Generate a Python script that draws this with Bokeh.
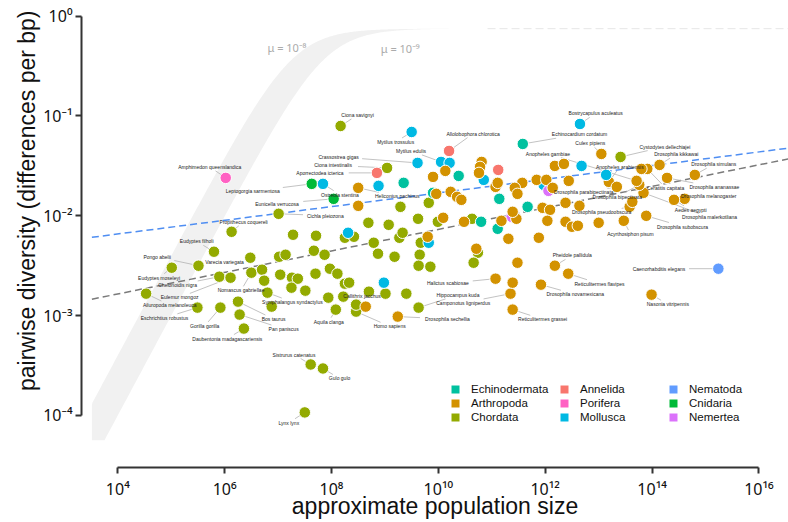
import numpy as np
from bokeh.plotting import figure
from bokeh.models import Range1d, FixedTicker, ColumnDataSource, Label, Legend, LegendItem, Title
from bokeh.core.properties import value
from bokeh.embed import file_html
from bokeh.resources import INLINE

# ---------------- data ----------------
phyla = ["Echinodermata", "Arthropoda", "Chordata", "Annelida", "Porifera",
         "Mollusca", "Nematoda", "Cnidaria", "Nemertea"]
phylum_colors = {"Annelida": "#F8766D", "Arthropoda": "#D39200", "Chordata": "#93AA00",
                 "Cnidaria": "#00BA38", "Echinodermata": "#00C19F", "Mollusca": "#00B9E3",
                 "Nematoda": "#619CFF", "Nemertea": "#DB72FB", "Porifera": "#FF61C3"}

# labelled species: name, phylum, log10 population size, log10 pairwise diversity
species = ["Ciona savignyi", "Mytilus trossulus", "Amphimedon queenslandica", "Crassostrea gigas",
           "Mytilus edulis", "Ciona intestinalis", "Aporrectodea icterica", "Leptogorgia sarmentosa",
           "Ostreola stentina", "Eunicella verrucosa", "Heliconius pachinus", "Cichla pleiozona",
           "Propithecus coquereli", "Eudyptes filholi", "Ailuropoda melanoleuca", "Eudyptes moseleyi",
           "Pongo abelii", "Varecia variegata", "Chelonoidis nigra", "Eulemur mongoz",
           "Eschrichtius robustus", "Gorilla gorilla", "Bos taurus", "Pan paniscus",
           "Daubentonia madagascariensis", "Nomascus gabriellae", "Symphalangus syndactylus",
           "Aquila clanga", "Homo sapiens", "Callithrix jacchus", "Sistrurus catenatus", "Gulo gulo",
           "Lynx lynx", "Hippocampus kuda", "Drosophila sechellia", "Halictus scabiosae",
           "Camponotus ligniperdus", "Reticulitermes grassei", "Drosophila novamexicana",
           "Pheidole pallidula", "Reticulitermes flavipes", "Nasonia vitripennis",
           "Caenorhabditis elegans", "Bostrycapulus aculeatus", "Allolobophora chlorotica",
           "Echinocardium cordatum", "Culex pipiens", "Cystodytes dellechiajei", "Drosophila kikkawai",
           "Anopheles arabiensis", "Ceratitis capitata", "Drosophila simulans", "Drosophila ananassae",
           "Drosophila melanogaster", "Aedes aegypti", "Drosophila malerkotliana",
           "Drosophila subobscura", "Acyrthosiphon pisum", "Drosophila pseudoobscura",
           "Drosophila parabipectinata", "Drosophila bipectinata", "Anopheles gambiae"]
species_phylum = ["Chordata", "Mollusca", "Porifera", "Mollusca", "Mollusca", "Chordata", "Annelida",
                  "Cnidaria", "Mollusca", "Cnidaria", "Arthropoda", "Chordata", "Chordata", "Chordata",
                  "Chordata", "Chordata", "Chordata", "Chordata", "Chordata", "Chordata", "Chordata",
                  "Chordata", "Chordata", "Chordata", "Chordata", "Chordata", "Chordata", "Chordata",
                  "Chordata", "Chordata", "Chordata", "Chordata", "Chordata", "Chordata", "Arthropoda",
                  "Arthropoda", "Arthropoda", "Arthropoda", "Arthropoda", "Arthropoda", "Arthropoda",
                  "Arthropoda", "Nematoda", "Mollusca", "Annelida", "Echinodermata", "Arthropoda",
                  "Chordata", "Arthropoda", "Arthropoda", "Arthropoda", "Arthropoda", "Arthropoda",
                  "Arthropoda", "Arthropoda", "Arthropoda", "Arthropoda", "Arthropoda", "Arthropoda",
                  "Arthropoda", "Arthropoda", "Arthropoda"]
species_log10_N = [8.17, 9.50, 6.02, 9.61, 10.05, 9.04, 8.85, 7.63, 7.84, 8.04, 8.50, 7.01, 6.13, 5.80,
                   4.53, 5.01, 5.51, 6.48, 5.90, 6.11, 5.49, 5.92, 6.25, 6.28, 6.36, 6.50, 6.80, 8.08,
                   8.46, 8.46, 7.61, 7.84, 7.50, 9.63, 9.24, 11.07, 11.35, 11.39, 11.92, 12.18, 12.43,
                   13.99, 15.24, 12.65, 10.20, 11.58, 13.05, 13.41, 14.14, 13.19, 13.91, 14.80, 14.28,
                   14.61, 14.41, 13.84, 13.89, 13.47, 13.58, 13.34, 13.76, 13.71]
species_log10_pi = [-1.10, -1.16, -1.62, -1.47, -1.46, -1.52, -1.57, -1.68, -1.68, -1.83, -1.72, -1.98,
                    -2.16, -2.36, -2.78, -2.52, -2.50, -2.42, -2.61, -2.62, -2.92, -2.92, -2.86, -2.99,
                    -3.13, -2.57, -2.77, -2.94, -2.96, -2.89, -3.49, -3.53, -3.97, -2.92, -3.01, -2.63,
                    -2.78, -2.94, -2.69, -2.50, -2.58, -2.79, -2.53, -1.08, -1.35, -1.28, -1.38, -1.41,
                    -1.49, -1.66, -1.53, -1.59, -1.62, -1.83, -1.84, -1.77, -2.00, -2.05, -1.91, -1.71,
                    -1.69, -1.65]

# unlabelled species
other_phylum = (["Chordata"] * 44 + ["Mollusca"] * 9 + ["Echinodermata"] * 7 + ["Annelida"]
                + ["Nemertea"] * 2 + ["Arthropoda"] * 44)
other_log10_N = [7.28, 7.71, 8.25, 8.42, 8.69, 9.07, 9.62, 9.29, 9.82, 9.99, 8.79, 9.27, 9.33, 9.67,
                 8.87, 9.18, 9.65, 9.63, 9.85, 7.67, 7.87, 7.02, 7.14, 6.70, 6.74, 7.04, 7.26, 7.37,
                 7.25, 7.51, 7.70, 7.97, 8.11, 8.25, 8.33, 8.70, 9.01, 9.40, 7.94, 6.88, 8.22, 10.74,
                 10.66, 10.63,
                 8.31, 9.82, 8.98, 8.88, 10.21, 10.85, 11.97, 13.14, 12.68,
                 9.35, 9.90, 10.38, 11.14, 11.67, 11.11, 10.80,
                 11.12,
                 12.06, 11.37,
                 9.90, 9.96, 8.50, 9.80, 8.64, 10.09, 10.48, 10.13, 10.81, 10.78, 10.76, 11.07, 11.11,
                 10.23, 10.35, 10.43, 12.18, 12.35, 13.63, 12.44, 12.38, 12.64, 11.84, 12.02, 12.14,
                 11.57, 11.43, 11.48, 11.95, 12.09, 12.04, 12.38, 12.50, 12.61, 13.00, 11.46, 11.39,
                 11.18, 11.31, 11.88, 10.71, 11.48, 11.39, 13.80]
other_log10_pi = [-2.19, -2.20, -2.22, -2.21, -2.07, -2.09, -2.03, -1.91, -1.87, -2.06, -2.27, -2.22,
                  -2.17, -2.27, -2.38, -2.41, -2.39, -2.50, -2.51, -2.35, -2.39, -2.41, -2.39, -2.54,
                  -2.65, -2.59, -2.62, -2.63, -2.72, -2.75, -2.58, -2.53, -2.58, -2.68, -2.67, -2.76,
                  -2.78, -2.78, -2.82, -2.91, -2.81, -2.37, -2.47, -2.03,
                  -2.17, -2.27, -2.67, -1.70, -1.47, -1.64, -1.69, -1.59, -1.50,
                  -1.67, -1.77, -1.60, -1.83, -1.91, -2.13, -2.06,
                  -1.54,
                  -1.75, -2.01,
                  -1.61, -1.78, -1.90, -2.21, -2.91, -2.02, -2.06, -1.55, -1.46, -1.51, -1.57, -1.71,
                  -1.67, -1.76, -1.81, -1.84, -1.50, -1.48, -1.86, -1.65, -1.87, -1.90, -1.64, -1.64,
                  -1.72, -1.67, -1.72, -1.78, -1.92, -1.94, -2.05, -2.06, -2.11, -2.10, -2.07, -2.03,
                  -1.96, -2.05, -2.23, -2.22, -2.33, -2.47, -2.67, -1.53]

# fitted trend lines (log10 pi = intercept + slope * (log10 N - 4))
blue_fit = (-2.182, 0.0685)
grey_fit = (-2.783, 0.1078)
# neutral expectation band: pi = c N / (1 + 4 c N / 3)
band_c_upper = 4e-8
band_c_lower = 1e-8
saturation = 0.75

x_tick_exp = [4, 6, 8, 10, 12, 14, 16]
y_tick_exp = [-4, -3, -2, -1, 0]

# ---------------- layout (pixels) ----------------
label_offset_px = {
    "Ciona savignyi": (17, -11), "Mytilus trossulus": (-16, 10), "Amphimedon queenslandica": (-16, -11),
    "Crassostrea gigas": (-79, -6), "Mytilus edulis": (-30, -11), "Ciona intestinalis": (-54, -2.5),
    "Aporrectodea icterica": (-57, 0), "Leptogorgia sarmentosa": (-59, 7.4), "Ostreola stentina": (17, 10.7),
    "Eunicella verrucosa": (-56.6, 4.8), "Heliconius pachinus": (39, 8.5), "Cichla pleiozona": (46.7, 1.7),
    "Propithecus coquereli": (12, -10), "Eudyptes filholi": (-17.3, -10.4),
    "Ailuropoda melanoleuca": (23.6, 11.4), "Eudyptes moseleyi": (-12.7, 10), "Pongo abelii": (-41.3, -8.8),
    "Varecia variegata": (-25.7, 4.7), "Chelonoidis nigra": (-41.7, 8.3), "Eulemur mongoz": (-51, 19.7),
    "Eschrichtius robustus": (-33, 10.2), "Gorilla gorilla": (-15.7, 18.3), "Bos taurus": (35.6, 17.4),
    "Pan paniscus": (44, 14.4), "Daubentonia madagascariensis": (-16.6, 10),
    "Nomascus gabriellae": (-10.3, 17.7), "Symphalangus syndactylus": (25, 9.4), "Aquila clanga": (-7, 12),
    "Homo sapiens": (33.6, 14.7), "Callithrix jacchus": (6, -9), "Sistrurus catenatus": (-16.7, -10),
    "Gulo gulo": (16.6, 10), "Lynx lynx": (-16, 10.3), "Hippocampus kuda": (39.4, -12.7),
    "Drosophila sechellia": (49.7, 2.3), "Halictus scabiosae": (-47.7, 4.7),
    "Camponotus ligniperdus": (-47.3, 9.3), "Reticulitermes grassei": (30, 9.7),
    "Drosophila novamexicana": (34.3, 9.6), "Pheidole pallidula": (17.4, -10.3),
    "Reticulitermes flavipes": (31.3, 10), "Nasonia vitripennis": (16.3, 9.6),
    "Caenorhabditis elegans": (-59.4, 0), "Bostrycapulus aculeatus": (15.7, -10.6),
    "Allolobophora chlorotica": (24, -17.3), "Echinocardium cordatum": (56.7, -9.7),
    "Culex pipiens": (-11, -10.6), "Cystodytes dellechiajei": (44.3, -10.3),
    "Drosophila kikkawai": (16.7, -10.7), "Anopheles arabiensis": (11, -15),
    "Ceratitis capitata": (18.3, 19), "Drosophila simulans": (19, -10.7), "Drosophila ananassae": (47.3, 9),
    "Drosophila melanogaster": (24, -2.6), "Aedes aegypti": (16.7, 10),
    "Drosophila malerkotliana": (66, 24.6), "Drosophila subobscura": (36.3, 10.7),
    "Acyrthosiphon pisum": (6.7, 13.3), "Drosophila pseudoobscura": (-28, 5.6),
    "Drosophila parabipectinata": (-33, 5.6), "Drosophila bipectinata": (-22, 11.7),
    "Anopheles gambiae": (-88.7, -27.3),
}

W, H = 788, 522
LEFT, BOTTOM = 81, 55
FRAME_W, FRAME_H = W - LEFT, H - BOTTOM
LX0, LX1 = 3.3206, 16.553
LY0, LY1 = -4.522, 0.1573
x_per_px = (LX1 - LX0) / FRAME_W
y_per_px = (LY1 - LY0) / FRAME_H
band_left_log = 3.515
band_bottom_log = -4.25

p = figure(width=W, height=H,
           x_axis_type="log", y_axis_type="log",
           x_range=Range1d(10 ** LX0, 10 ** LX1), y_range=Range1d(10 ** LY0, 10 ** LY1),
           output_backend="svg", toolbar_location=None, title=None,
           min_border_left=LEFT, min_border_right=0, min_border_top=0, min_border_bottom=BOTTOM)
p.xgrid.visible = False
p.ygrid.visible = False
p.outline_line_color = None
p.background_fill_color = "white"

# band
logN = np.linspace(3.0, LX1 + 0.1, 600)
N = 10 ** logN
def neutral(c, n):
    th = c * n
    return th / (1 + 4 * th / 3)
up = np.maximum(neutral(band_c_upper, N), 10 ** band_bottom_log)
lo = np.maximum(neutral(band_c_lower, N), 10 ** band_bottom_log)
Nc = np.maximum(N, 10 ** band_left_log)
p.patch(np.concatenate([Nc, Nc[::-1]]), np.concatenate([up, lo[::-1]]),
        fill_color="#f1f1f1", line_color=None)
p.line([10 ** 10.92, 10 ** LX1], [saturation, saturation], line_color="#e6e6e6",
       line_width=1, line_dash="8 4")

# trend lines
xl = np.array([band_left_log, LX1])
for (a, b), col in [(blue_fit, "#4f8ef2"), (grey_fit, "#7a7a7a")]:
    p.line(10 ** xl, 10 ** (a + b * (xl - 4)), line_color=col, line_width=1.5, line_dash="7 4")

# labels & segments
lab_x, lab_y, seg_x0, seg_y0, seg_x1, seg_y1 = [], [], [], [], [], []
for name, lx, ly in zip(species, species_log10_N, species_log10_pi):
    dx, dy = label_offset_px[name]
    lab_x.append(10 ** (lx + dx * x_per_px))
    lab_y.append(10 ** (ly - dy * y_per_px))
    w = 2.6 * len(name) / 2 + 1.5
    h = 4.0
    t = max(abs(dx) / w, abs(dy) / h)
    if t > 1:
        f = 1 - 1 / t
        seg_x0.append(10 ** lx); seg_y0.append(10 ** ly)
        seg_x1.append(10 ** (lx + dx * f * x_per_px)); seg_y1.append(10 ** (ly - dy * f * y_per_px))
p.segment(seg_x0, seg_y0, seg_x1, seg_y1, line_color="#b3b3b3", line_width=0.8)

# points
all_phylum = species_phylum + other_phylum
all_N = [10 ** v for v in species_log10_N + other_log10_N]
all_pi = [10 ** v for v in species_log10_pi + other_log10_pi]
src = ColumnDataSource(dict(x=all_N, y=all_pi, c=[phylum_colors[ph] for ph in all_phylum]))
p.scatter("x", "y", source=src, size=11.5, fill_color="c", line_color="white", line_width=1)

tsrc = ColumnDataSource(dict(x=lab_x, y=lab_y, t=species))
p.text("x", "y", text="t", source=tsrc, text_font=value("Liberation Sans"),
       text_font_size=value("5px"), text_align="center", text_baseline="middle", text_color="#222222")

# mu labels
for txt, lx, ly in [("μ = 10⁻⁸", 6.80, -0.31), ("μ = 10⁻⁹", 8.92, -0.32)]:
    p.add_layout(Label(x=10 ** lx, y=10 ** ly, text=txt, text_align="left", text_baseline="middle",
                       text_font_size="11px", text_font="Noto Sans", text_color="#ababab"))

# axes
sup = str.maketrans("-0123456789", "⁻⁰¹²³⁴⁵⁶⁷⁸⁹")
p.xaxis.ticker = FixedTicker(ticks=[10.0 ** e for e in x_tick_exp])
p.xaxis.major_label_overrides = {10.0 ** e: "10" + str(e).translate(sup) for e in x_tick_exp}
p.xaxis.bounds = (10.0 ** x_tick_exp[0], 10.0 ** x_tick_exp[-1])
p.yaxis.ticker = FixedTicker(ticks=[10.0 ** e for e in y_tick_exp])
p.yaxis.major_label_overrides = {10.0 ** e: "10" + str(e).translate(sup) for e in y_tick_exp}
p.yaxis.bounds = (10.0 ** y_tick_exp[0], 10.0 ** y_tick_exp[-1])
for ax in (p.xaxis, p.yaxis):
    ax.axis_line_color = "#333333"
    ax.axis_line_width = 2
    ax.major_tick_line_color = "#333333"
    ax.major_tick_line_width = 2
    ax.major_tick_out = 6
    ax.major_tick_in = 0
    ax.minor_tick_line_color = None
    ax.major_label_text_font = "Noto Sans"
    ax.major_label_text_font_size = "16px"
    ax.major_label_text_color = "#111111"
p.xaxis.major_label_standoff = 4
p.yaxis.major_label_standoff = 3

p.xaxis.axis_label = "approximate population size"
p.xaxis.axis_label_text_font = "Liberation Sans"
p.xaxis.axis_label_text_font_size = "23px"
p.xaxis.axis_label_text_font_style = "normal"
p.xaxis.axis_label_text_color = "#111111"
p.xaxis.axis_label_standoff = -10

p.add_layout(Title(text="pairwise diversity (differences per bp)", align="right", offset=10,
                   vertical_align="middle", standoff=0, text_font="Liberation Sans",
                   text_font_size="23px", text_font_style="normal", text_color="#111111"), "left")

# legend (3 columns)
columns = [(["Echinodermata", "Arthropoda", "Chordata"], 369),
           (["Annelida", "Porifera", "Mollusca"], 478),
           (["Nematoda", "Cnidaria", "Nemertea"], 587)]
nan = np.array([np.nan])
for names, x0 in columns:
    items = []
    for nm in names:
        r = p.quad(left=nan, right=nan, top=nan, bottom=nan, fill_color=phylum_colors[nm], line_color=None)
        items.append(LegendItem(label=nm, renderers=[r]))
    leg = Legend(items=items, location=(x0, 43), orientation="vertical", glyph_width=10, glyph_height=10,
                 label_height=14, label_standoff=11, spacing=0, padding=0, margin=0,
                 border_line_color=None, background_fill_alpha=0,
                 label_text_font_size="11.5px", label_text_font="Liberation Sans",
                 label_text_color="#111111")
    p.add_layout(leg)

open("out.html", "w").write(file_html(p, INLINE))
